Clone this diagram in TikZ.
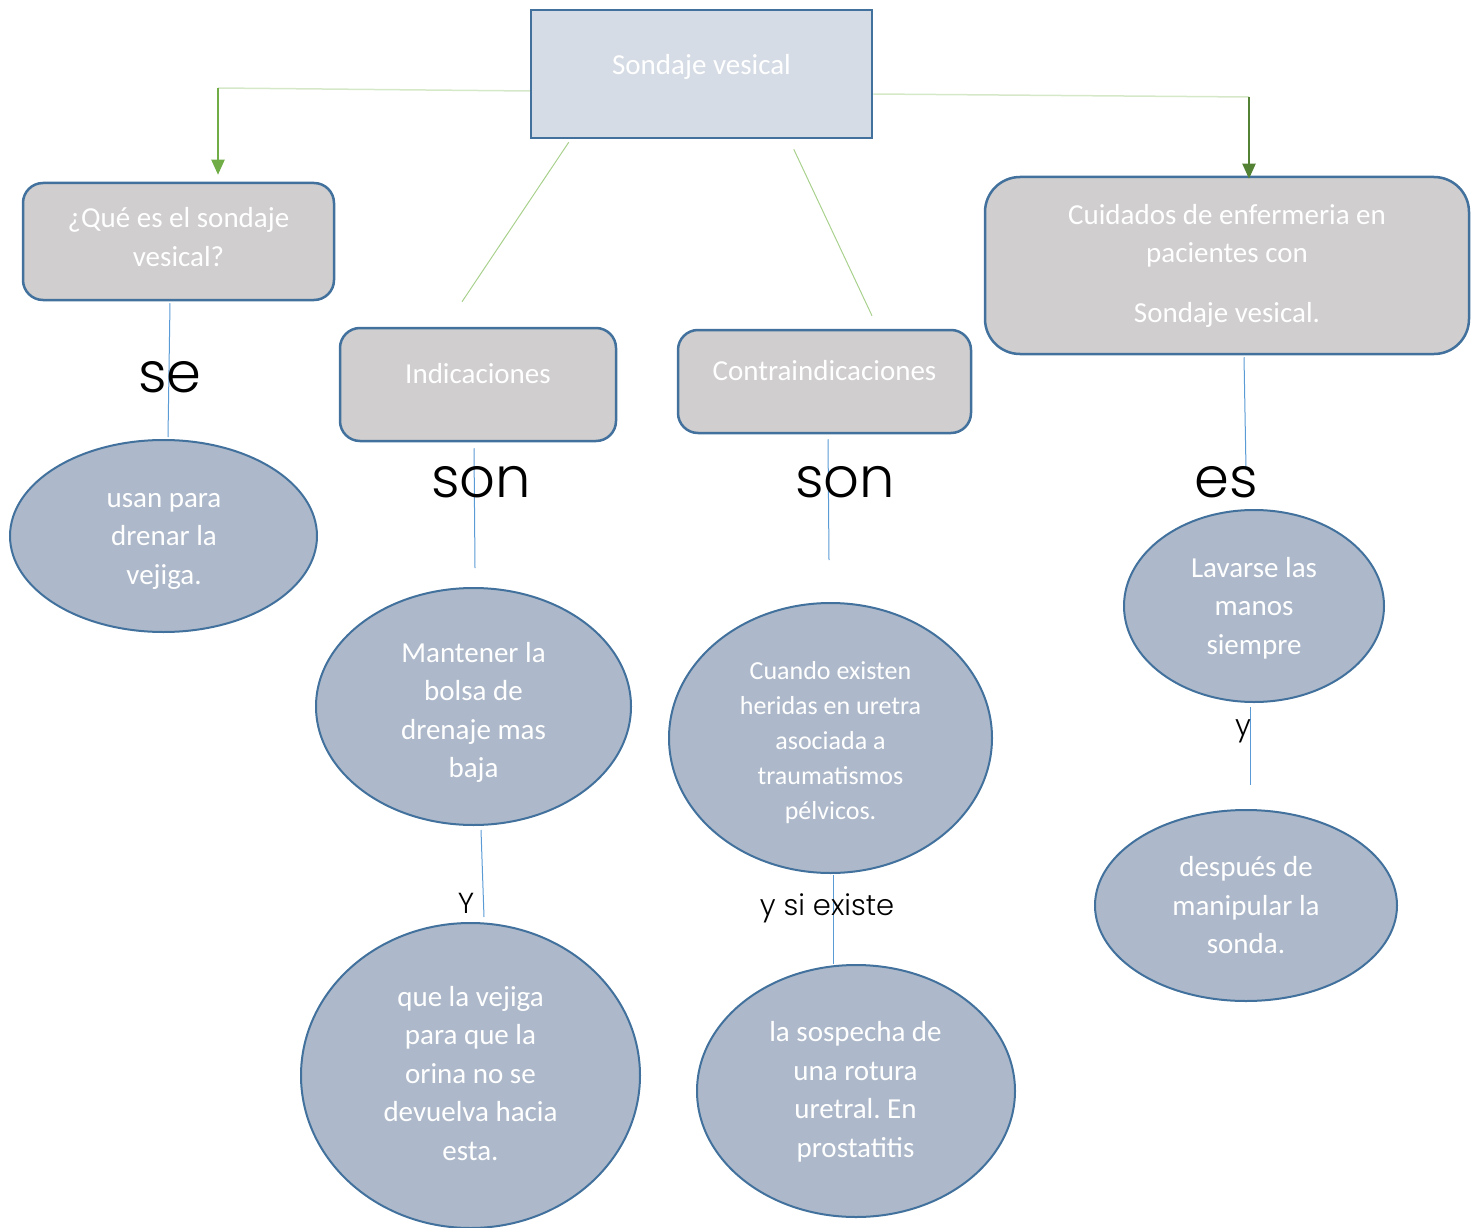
\documentclass[tikz,border=0pt]{standalone}
\usepackage{fontspec}
\setmainfont{Carlito}
\newfontfamily\gothic{Poppins Light}
\usetikzlibrary{shapes.geometric,arrows.meta}
\frenchspacing
\definecolor{bordblue}{HTML}{41719C}
\definecolor{rootfill}{HTML}{D6DCE5}
\definecolor{boxfill}{HTML}{D0CECE}
\definecolor{ovalfill}{HTML}{ADB9CA}
\definecolor{linkblue}{HTML}{5B9BD5}
\definecolor{lgreen}{HTML}{A9D18E}
\definecolor{palegreen}{HTML}{D5E8C8}
\definecolor{mgreen}{HTML}{70AD47}
\definecolor{dgreen}{HTML}{548235}
\tikzset{
  rootbox/.style={draw=bordblue, fill=rootfill, line width=2.5pt, inner sep=0pt},
  rbox/.style={draw=bordblue, fill=boxfill, line width=2.5pt, rounded corners=20pt, inner sep=0pt},
  boxtxt/.style={text=white, font=\fontsize{29}{38.5}\selectfont, align=center, inner sep=0pt},
  oval/.style={ellipse, draw=bordblue, fill=ovalfill, line width=2pt, inner sep=0pt},
  link/.style={draw=linkblue, line width=1pt},
  glink/.style={draw=lgreen, line width=1pt},
  plink/.style={draw=palegreen, line width=1.5pt},
  garrow/.style={draw=mgreen, line width=2pt, -{Triangle[width=13pt,length=15pt]}},
  darrow/.style={draw=dgreen, line width=2pt, -{Triangle[width=13pt,length=15pt]}},
  bigword/.style={font=\gothic\fontsize{56}{60}\selectfont, anchor=base, inner sep=0pt},
  smallword/.style={font=\gothic\fontsize{29}{32}\selectfont, anchor=base, inner sep=0pt},
}
\begin{document}
\begin{tikzpicture}[x=1pt,y=-1pt]
\useasboundingbox (0,0) rectangle (1481,1228);

% boxes
\node[rootbox, minimum width=341pt, minimum height=128pt] (root) at (701.5,74) {};
\node[boxtxt] (roott) at (701.5,67) {Sondaje vesical};

\node[rbox, minimum width=311pt, minimum height=117pt] (A) at (178.5,241.5) {};
\node[boxtxt] (At) at (178.5,237) {¿Qué es el sondaje\\vesical?};

\node[rbox, minimum width=276pt, minimum height=113pt] (B) at (478,384.5) {};
\node[boxtxt] (Bt) at (478,374) {Indicaciones};

\node[rbox, minimum width=293pt, minimum height=103pt] (C) at (824.5,381.5) {};
\node[boxtxt] (Ct) at (824.5,371) {Contraindicaciones};

\node[rbox, rounded corners=35pt, minimum width=484pt, minimum height=177pt] (D) at (1227,265.5) {};
\node[boxtxt] (Dt) at (1227,265.5) {Cuidados de enfermeria en\\pacientes con\\[21pt]Sondaje vesical.};

% ellipses
\node[oval, minimum width=307pt, minimum height=192pt] (E1) at (163.5,536) {};
\node[boxtxt] (E1t) at (164,541) {usan para\\drenar la\\vejiga.};
\node[oval, minimum width=315pt, minimum height=237pt] (E2) at (473.5,706.5) {};
\node[boxtxt] (E2t) at (473.5,712.5) {Mantener la\\bolsa de\\drenaje mas\\baja};
\node[oval, minimum width=339pt, minimum height=305pt] (E3) at (470.5,1075.5) {};
\node[boxtxt] (E3t) at (470.5,1073.5) {que la vejiga\\para que la\\orina no se\\devuelva hacia\\esta.};
\node[oval, minimum width=323pt, minimum height=270pt] (E4) at (830.5,738) {};
\node[boxtxt, font=\fontsize{26}{35}\selectfont] (E4t) at (830.5,743) {Cuando existen\\heridas en uretra\\asociada a\\traumatismos\\pélvicos.};
\node[oval, minimum width=318pt, minimum height=252pt] (E5) at (856,1091) {};
\node[boxtxt] (E5t) at (855.5,1092) {la sospecha de\\una rotura\\uretral. En\\prostatitis};
\node[oval, minimum width=260pt, minimum height=192pt] (E6) at (1254,606) {};
\node[boxtxt] (E6t) at (1254,608) {Lavarse las\\manos\\siempre};
\node[oval, minimum width=302pt, minimum height=191pt] (E7) at (1246,905.5) {};
\node[boxtxt] (E7t) at (1246,905.5) {después de\\manipular la\\sonda.};

% green connectors
\coordinate (gl) at (218,88);
\coordinate (gr) at (1249,97);
\draw[plink] ([yshift=-17pt]root.west) -- (gl);
\draw[garrow] (gl) -- ([yshift=7pt]gl |- A.north);
\draw[plink] ([yshift=-20pt]root.east) -- (gr);
\draw[darrow] (gr) -- ([yshift=-3pt]gr |- D.north);
\draw[glink] ([shift={(39,3)}]root.south west) -- ([shift={(-16,-25)}]B.north);
\draw[glink] ([shift={(264,10)}]root.south west) -- ([shift={(47.5,-13)}]C.north);

% blue connectors
\draw[link] ([shift={(-8.5,2)}]A.south) -- ([shift={(4.5,-2)}]E1.north);
\draw[link] ([shift={(-4,6)}]B.south) -- ([shift={(1.5,-19)}]E2.north);
\draw[link] ([shift={(3.5,5)}]C.south) -- ([shift={(-1.5,-42)}]E4.north);
\draw[link] ([shift={(17,2)}]D.south) -- ([shift={(-8,-40)}]E6.north);
\draw[link] ([shift={(-4,4)}]E6.south) -- ([shift={(4,-24)}]E7.north);
\draw[link] ([shift={(7.5,4)}]E2.south) -- ([shift={(13.5,-5)}]E3.north);
\draw[link] ([shift={(2.5,1)}]E4.south) -- ([shift={(-23,0)}]E5.north);

% connector words
\node[bigword] (w1) at (170,392) {se};
\node[bigword] (w2) at (481,497) {son};
\node[bigword] (w3) at (845,497) {son};
\node[bigword] (w4) at (1226,497) {es};
\node[smallword] (w5) at (827,915) {y si existe};
\node[smallword] (w6) at (466,913) {Y};
\node[smallword] (w7) at (1243,735) {y};
\end{tikzpicture}
\end{document}
